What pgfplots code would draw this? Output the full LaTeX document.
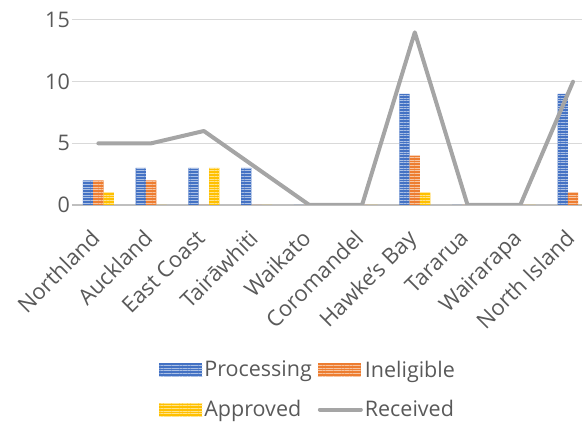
\documentclass[border=0pt]{standalone}
\usepackage{fontspec}
\setmainfont{Open Sans}
\usepackage{pgfplots}
\pgfplotsset{compat=1.18}
\usetikzlibrary{patterns.meta}
\definecolor{cBlue}{HTML}{4472C4}
\definecolor{cOrange}{HTML}{ED7D31}
\definecolor{cGold}{HTML}{FFC000}
\definecolor{cLine}{HTML}{A5A5A5}
\definecolor{cGrid}{HTML}{D9D9D9}
\definecolor{cAxis}{HTML}{BFBFBF}
\definecolor{cText}{HTML}{595959}
\newcommand{\chartfont}{\fontsize{21.5}{25.8}\selectfont}
\newcommand{\catfont}{\fontsize{22}{26.4}\selectfont}
\pgfplotsset{
  barleg/.style={legend image code/.code={\fill[##1] (0pt,-6.5pt) rectangle (43pt,6.5pt);}},
  lineleg/.style={legend image code/.code={\draw[##1] (2pt,0pt) -- (43pt,0pt);}},
  stripes/.style={fill=#1, draw=none,
    postaction={pattern={Lines[angle=0,distance=2.7pt,line width=0.8pt]},
    pattern color=white!55!#1}},
}
\begin{document}
\begin{tikzpicture}[font=\chartfont]
\begin{axis}[
  at={(0pt,0pt)}, anchor=south west,
  scale only axis, width=510pt, height=185pt,
  xmin=-0.5, xmax=9.17, ymin=0, ymax=15,
  xtick={0,1,2,3,4,5,6,7,8,9},
  xticklabels={Northland,Auckland,East Coast,Tairāwhiti,Waikato,Coromandel,Hawke’s Bay,Tararua,Wairarapa,North Island},
  xticklabel style={xshift=-9pt, yshift=-23pt, rotate=45, anchor=north east, inner sep=0pt, text=cText, font=\catfont},
  ytick={0,5,10,15},
  yticklabel style={anchor=east, inner sep=0pt, xshift=-2pt, text=cText, font=\chartfont},
  /pgf/number format/assume math mode=true,
  major tick length=0pt,
  axis x line*=bottom, axis y line*=left,
  x axis line style={draw=cAxis, line width=2.5pt, -},
  y axis line style={draw=none},
  ymajorgrids, grid style={draw=cGrid, line width=1pt},
  legend columns=2,
  legend cell align=left,
  legend style={at={(0.463,-0.83)}, anchor=north, draw=none, fill=none,
    font=\chartfont, text=cText, inner sep=0pt,
    /tikz/every even column/.append style={column sep=4pt},
    row sep=18pt},
]
\addplot[ybar, bar width=10.3pt, bar shift=-10.3pt, stripes=cBlue, barleg]
  coordinates {(0,2) (1,3) (2,3) (3,3) (4,0) (5,0) (6,9) (7,0) (8,0) (9,9)};
\addplot[ybar, bar width=10.3pt, bar shift=0pt, stripes=cOrange, barleg]
  coordinates {(0,2) (1,2) (2,0) (3,0) (4,0) (5,0) (6,4) (7,0) (8,0) (9,1)};
\addplot[ybar, bar width=10.3pt, bar shift=10.3pt, stripes=cGold, barleg]
  coordinates {(0,1) (1,0) (2,3) (3,0) (4,0) (5,0) (6,1) (7,0) (8,0) (9,0)};
\addplot[sharp plot, draw=cLine, line width=4pt, line join=round, line cap=round, lineleg]
  coordinates {(0,5) (1,5) (2,6) (3,3) (4,0) (5,0) (6,14) (7,0) (8,0) (9,10)};
\legend{Processing,Ineligible,Approved,Received}
\end{axis}
\pgfresetboundingbox
\path (-72pt,-217pt) rectangle (510pt,205pt);
\end{tikzpicture}
\end{document}
